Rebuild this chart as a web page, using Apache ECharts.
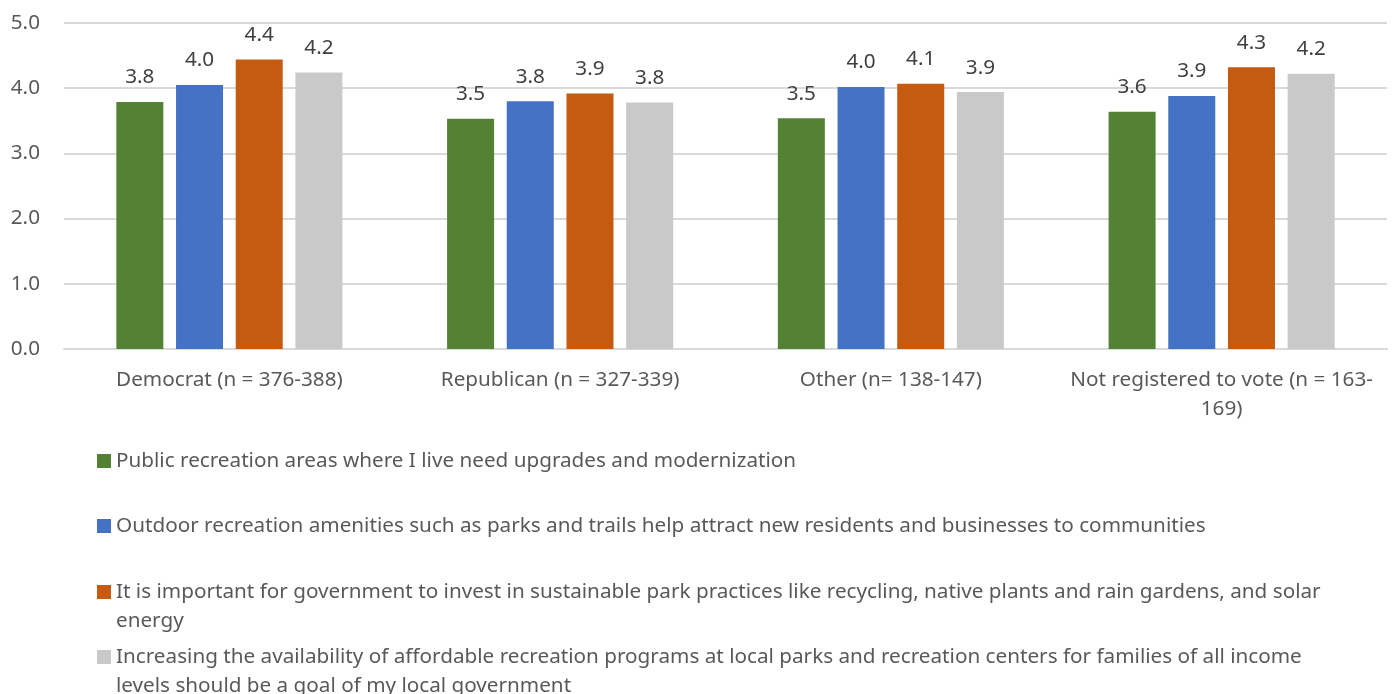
<!DOCTYPE html>
<html>
<head>
<meta charset="utf-8">
<script src="https://cdn.jsdelivr.net/npm/echarts@6/dist/echarts.min.js"></script>
<style>
  html, body { margin: 0; padding: 0; background: #fff; }
  #chart { width: 1393px; height: 694px; }
</style>
</head>
<body>
<div id="chart"></div>
<script>
// groups on the x axis
const categories = [
  'Democrat (n = 376-388)',
  'Republican (n = 327-339)',
  'Other (n= 138-147)',
  'Not registered to vote (n = 163-\n169)'
]

const seriesNames = [
  'Public recreation areas where I live need upgrades and modernization',
  'Outdoor recreation amenities such as parks and trails help attract new residents and businesses to communities',
  'It is important for government to invest in sustainable park practices like recycling, native plants and rain gardens, and solar energy',
  'Increasing the availability of affordable recreation programs at local parks and recreation centers for families of all income levels should be a goal of my local government'
]

// legend text as wrapped in the original; a leading blank line keeps
// the colour box level with the first line of the two-line items
const legendText = [
  'Public recreation areas where I live need upgrades and modernization',
  'Outdoor recreation amenities such as parks and trails help attract new residents and businesses to communities',
  '\nIt is important for government to invest in sustainable park practices like recycling, native plants and rain gardens, and solar\nenergy',
  '\nIncreasing the availability of affordable recreation programs at local parks and recreation centers for families of all income\nlevels should be a goal of my local government'
]

const upgrades = [3.79, 3.53, 3.54, 3.64]
const attract = [4.05, 3.80, 4.02, 3.88]
const sustainable = [4.44, 3.92, 4.07, 4.32]
const affordable = [4.24, 3.78, 3.94, 4.22]

const colors = ['#548235', '#4472C4', '#C55A11', '#C9C9C9']
const values = [upgrades, attract, sustainable, affordable]

const font = "'Noto Sans', 'Open Sans', sans-serif"
const fs = 20.7
const legendTops = [446.5, 511.5, 548.5, 613.5]

const chart = echarts.init(document.getElementById('chart'))

chart.setOption({
  animation: false,
  textStyle: { fontFamily: font },
  grid: { left: 64, right: 6, top: 23, bottom: 345 },
  legend: seriesNames.map((name, i) => ({
    data: [name],
    left: 97,
    top: legendTops[i],
    padding: 0,
    itemWidth: 14,
    itemHeight: 14,
    icon: 'rect',
    formatter: () => legendText[i],
    textStyle: {
      fontFamily: font,
      fontSize: fs,
      color: '#595959',
      lineHeight: 29
    }
  })),
  xAxis: {
    type: 'category',
    data: categories,
    axisTick: { show: false },
    axisLine: { lineStyle: { color: '#D9D9D9', width: 2 } },
    axisLabel: {
      interval: 0,
      margin: 17,
      fontSize: fs,
      lineHeight: 29,
      color: '#595959',
      fontFamily: font
    }
  },
  yAxis: {
    type: 'value',
    min: 0,
    max: 5,
    interval: 1,
    axisLine: { show: false },
    axisTick: { show: false },
    splitLine: { lineStyle: { color: '#D9D9D9', width: 2 } },
    axisLabel: {
      margin: 24,
      fontSize: fs,
      color: '#595959',
      fontFamily: font,
      formatter: v => v.toFixed(1)
    }
  },
  series: seriesNames.map((name, i) => ({
    name,
    type: 'bar',
    data: values[i],
    barWidth: 47,
    barGap: '27%',
    itemStyle: { color: colors[i] },
    label: {
      show: true,
      position: 'top',
      distance: 14,
      fontSize: fs,
      color: '#404040',
      fontFamily: font,
      formatter: p => p.value.toFixed(1)
    }
  }))
})
</script>
</body>
</html>
